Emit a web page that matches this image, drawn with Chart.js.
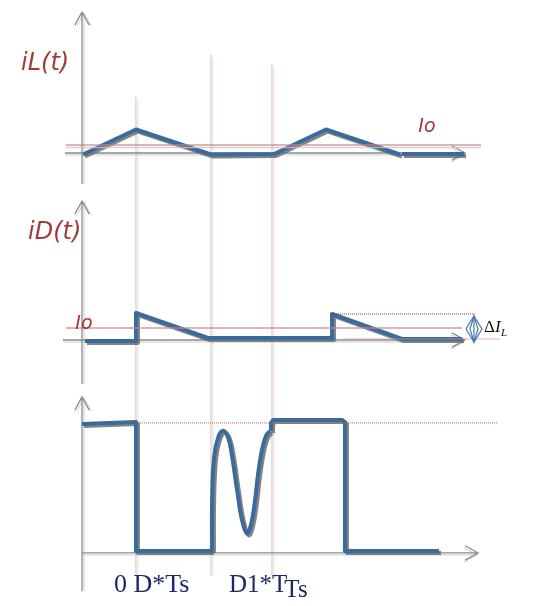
<!DOCTYPE html>
<html>
<head>
<meta charset="utf-8">
<script src="https://cdn.jsdelivr.net/npm/chart.js@4.4.0/dist/chart.umd.min.js"></script>
<style>
body { margin: 0; background: #fff; }
#wrap { width: 534px; height: 606px; }
</style>
</head>
<body>
<div id="wrap"><canvas id="chart" width="534" height="606"></canvas></div>
<script>
// time is in units of Ts
var D = 0.284, D1end = 0.679, Ts = 1.0
var guideTimes = [D, D1end, Ts]

// inductor current iL(t)
var iLTime  = [0.005, D, D1end, 1.011, 1.284, 1.674]
var iLValue = [0, 1, 0, 0.02, 1, 0]
var iLTailTime  = [1.684, 2.011]
var iLTailValue = [0.02, 0.02]
var iLIo = 0.38

// diode current iD(t)
var iDTime  = [0.016, D, D, 0.663, 0.989, 1.316, 1.316, 1.684, 2.0]
var iDValue = [-0.08, -0.08, 1.04, 0.04, 0.04, 0.04, 1.0, 0, 0]
var iDIo = 0.44
var iDPeak = 1.0

// switch node voltage
var vTimeA  = [0, D, D, 0.684]
var vValueA = [0.977, 0.992, 0, 0]
var vTimeCurve  = [0.684, 0.685, 0.695, 0.716, 0.742, 0.768, 0.789, 0.816, 0.842, 0.868, 0.889, 0.911, 0.926, 0.947, 0.968, 0.989]
var vValueCurve = [0, 0.40, 0.72, 0.87, 0.925, 0.877, 0.738, 0.469, 0.238, 0.135, 0.2, 0.392, 0.585, 0.777, 0.885, 0.923]
var vTimeB  = [0.995, 0.995, 1.005, 1.368, 1.384, 1.384, 1.879]
var vValueB = [0.923, 0.985, 1.008, 1.008, 0.992, 0, 0]
var vHigh = 0.985

var blue = '#3a6b9f'
var red = '#a33a3a'

function pts(xs, ys) {
    return xs.map(function (x, i) { return { x: x, y: ys[i] } })
}

function wave(xs, ys, axis, tension) {
    return {
        data: pts(xs, ys), yAxisID: axis, borderColor: blue, borderWidth: 4,
        pointRadius: 0, tension: tension || 0, borderJoinStyle: 'round',
        borderCapStyle: 'butt', shadow: true, clip: false
    }
}

function refLine(x0, x1, v, axis, color, width, dash) {
    return {
        data: pts([x0, x1], [v, v]), yAxisID: axis, borderColor: color,
        borderWidth: width, borderDash: dash || [], pointRadius: 0, clip: false
    }
}

// zero pixel and pixels per unit -> min/max for a hidden scale filling the canvas
function vRange(zeroPx, perUnit) {
    return { type: 'linear', display: false, min: -(606 - zeroPx) / perUnit, max: zeroPx / perUnit }
}

var panels = [
    { y: 'y1', axisX: [-0.09, 2.016], axisY: [-1.18, 5.7], base: 0.06 },
    { y: 'y2', axisX: [-0.1, 2.016], axisY: [-1.8, 5.52], base: -0.04 },
    { y: 'y3', axisX: [0, 2.085], axisY: [-0.31, 1.185], base: -0.015 }
]

var labels = [
    { text: 'iL(t)', t: -0.321, v: 3.38, axis: 'y1', font: 'italic 24px "DejaVu Sans"', color: red },
    { text: 'Io', t: 1.77, v: 0.9, axis: 'y1', font: 'italic 19px "DejaVu Sans"', color: red },
    { text: 'iD(t)', t: -0.284, v: 4.0, axis: 'y2', font: 'italic 24px "DejaVu Sans"', color: red },
    { text: 'Io', t: -0.035, v: 0.4, axis: 'y2', font: 'italic 19px "DejaVu Sans"', color: red },
    { text: '0 D*Ts', t: 0.168, v: -0.315, axis: 'y3', font: '26px "Liberation Serif"', color: '#1b2a66' },
    { text: 'D1*T', t: 0.774, v: -0.315, axis: 'y3', font: '25px "Liberation Serif"', color: '#1b2a66' },
    { text: 'Ts', t: 1.065, v: -0.354, axis: 'y3', font: '25px "Liberation Serif"', color: '#1b2a66' }
]

function arrow(ctx, x1, y1, x2, y2) {
    var a = Math.atan2(y2 - y1, x2 - x1), L = 15, w = 0.5
    ctx.beginPath()
    ctx.moveTo(x1, y1)
    ctx.lineTo(x2, y2)
    ctx.moveTo(x2 - L * Math.cos(a - w), y2 - L * Math.sin(a - w))
    ctx.lineTo(x2, y2)
    ctx.lineTo(x2 - L * Math.cos(a + w), y2 - L * Math.sin(a + w))
    ctx.stroke()
}

var sketch = {
    id: 'sketch',
    beforeDatasetsDraw: function (chart) {
        var ctx = chart.ctx, sx = chart.scales.x
        ctx.save()
        // vertical guide lines at D*Ts, (D+D1)*Ts, Ts
        var tops = [2.3, 4.0, 3.6]
        guideTimes.forEach(function (t, i) {
            var px = sx.getPixelForValue(t)
            var top = chart.scales.y1.getPixelForValue(tops[i])
            var bot = chart.scales.y3.getPixelForValue(-0.19)
            ctx.strokeStyle = 'rgba(200,120,120,0.55)'
            ctx.lineWidth = 1
            ctx.beginPath(); ctx.moveTo(px, top); ctx.lineTo(px, bot); ctx.stroke()
            ctx.strokeStyle = 'rgba(170,170,170,0.35)'
            ctx.beginPath(); ctx.moveTo(px + 2, top + 4); ctx.lineTo(px + 2, bot); ctx.stroke()
        })
        // axes with open arrow heads
        panels.forEach(function (p) {
            var sy = chart.scales[p.y]
            var x0 = sx.getPixelForValue(0)
            var ya = sy.getPixelForValue(p.axisY[0]), yb = sy.getPixelForValue(p.axisY[1])
            var xa = sx.getPixelForValue(p.axisX[0]), xb = sx.getPixelForValue(p.axisX[1])
            var yb0 = sy.getPixelForValue(p.base)
            ctx.lineWidth = 1
            ctx.strokeStyle = 'rgba(190,190,190,0.8)'
            arrow(ctx, x0 + 2, ya, x0 + 2, yb + 1)
            arrow(ctx, xa, yb0 + 2, xb - 1, yb0 + 2)
            ctx.lineWidth = 1.3
            ctx.strokeStyle = '#8c8c8c'
            arrow(ctx, x0, ya, x0, yb)
            arrow(ctx, xa, yb0, xb, yb0)
        })
        ctx.restore()
    },
    beforeDatasetDraw: function (chart, args) {
        if (args.meta._dataset.shadow) {
            var ctx = chart.ctx
            ctx.save()
            ctx.shadowColor = 'rgba(110,110,110,0.85)'
            ctx.shadowOffsetX = 2
            ctx.shadowOffsetY = 2
            ctx.shadowBlur = 0
        }
    },
    afterDatasetDraw: function (chart, args) {
        if (args.meta._dataset.shadow) chart.ctx.restore()
    },
    afterDraw: function (chart) {
        var ctx = chart.ctx, sx = chart.scales.x
        ctx.save()
        labels.forEach(function (l) {
            ctx.font = l.font
            ctx.fillStyle = l.color
            ctx.textBaseline = 'alphabetic'
            ctx.fillText(l.text, sx.getPixelForValue(l.t), chart.scales[l.axis].getPixelForValue(l.v))
        })
        // delta I_L marker
        var sy = chart.scales.y2
        var cx = sx.getPixelForValue(2.063)
        var top = sy.getPixelForValue(0.92), bot = sy.getPixelForValue(-0.12), mid = (top + bot) / 2
        ctx.strokeStyle = '#4a78b0'
        ctx.lineWidth = 1.2
        ;[8, 4].forEach(function (w) {
            ctx.beginPath()
            ctx.moveTo(cx, top); ctx.lineTo(cx + w, mid); ctx.lineTo(cx, bot); ctx.lineTo(cx - w, mid); ctx.closePath()
            ctx.stroke()
        })
        ctx.beginPath(); ctx.moveTo(cx, top); ctx.lineTo(cx, bot); ctx.stroke()
        ctx.fillStyle = '#111'
        ctx.font = '17px "Liberation Serif"'
        ctx.fillText('\u0394', cx + 10, mid + 3)
        ctx.font = 'italic 17px "Liberation Serif"'
        ctx.fillText('I', cx + 21, mid + 3)
        ctx.font = 'italic 11px "Liberation Serif"'
        ctx.fillText('L', cx + 27, mid + 7)
        ctx.restore()
    }
}

new Chart(document.getElementById('chart'), {
    type: 'line',
    data: {
        datasets: [
            refLine(-0.085, 2.1, iLIo, 'y1', 'rgba(205,130,130,0.8)', 1.5),
            refLine(-0.085, 2.1, iLIo - 0.1, 'y1', 'rgba(200,200,200,0.8)', 1.5),
            refLine(-0.084, 2.0, iDIo, 'y2', 'rgba(205,130,130,0.8)', 1.5),
            refLine(1.37, 2.2, 0.0, 'y2', 'rgba(215,150,150,0.7)', 1.2),
            refLine(1.305, 2.074, iDPeak, 'y2', '#8b2f2f', 1, [1, 1]),
            refLine(D, 2.19, vHigh, 'y3', 'rgba(200,90,90,0.8)', 1.2, [1, 1]),
            wave(iLTime, iLValue, 'y1'),
            wave(iLTailTime, iLTailValue, 'y1'),
            wave(iDTime, iDValue, 'y2'),
            wave(vTimeA, vValueA, 'y3'),
            wave(vTimeCurve, vValueCurve, 'y3', 0.4),
            wave(vTimeB, vValueB, 'y3')
        ]
    },
    options: {
        responsive: false,
        animation: false,
        layout: { padding: 0 },
        plugins: { legend: { display: false }, tooltip: { enabled: false } },
        scales: {
            x: { type: 'linear', display: false, min: -82 / 190, max: 452 / 190 },
            y1: vRange(154.5, 25),
            y2: vRange(339, 25),
            y3: vRange(551, 130)
        }
    },
    plugins: [sketch]
})
</script>
</body>
</html>
